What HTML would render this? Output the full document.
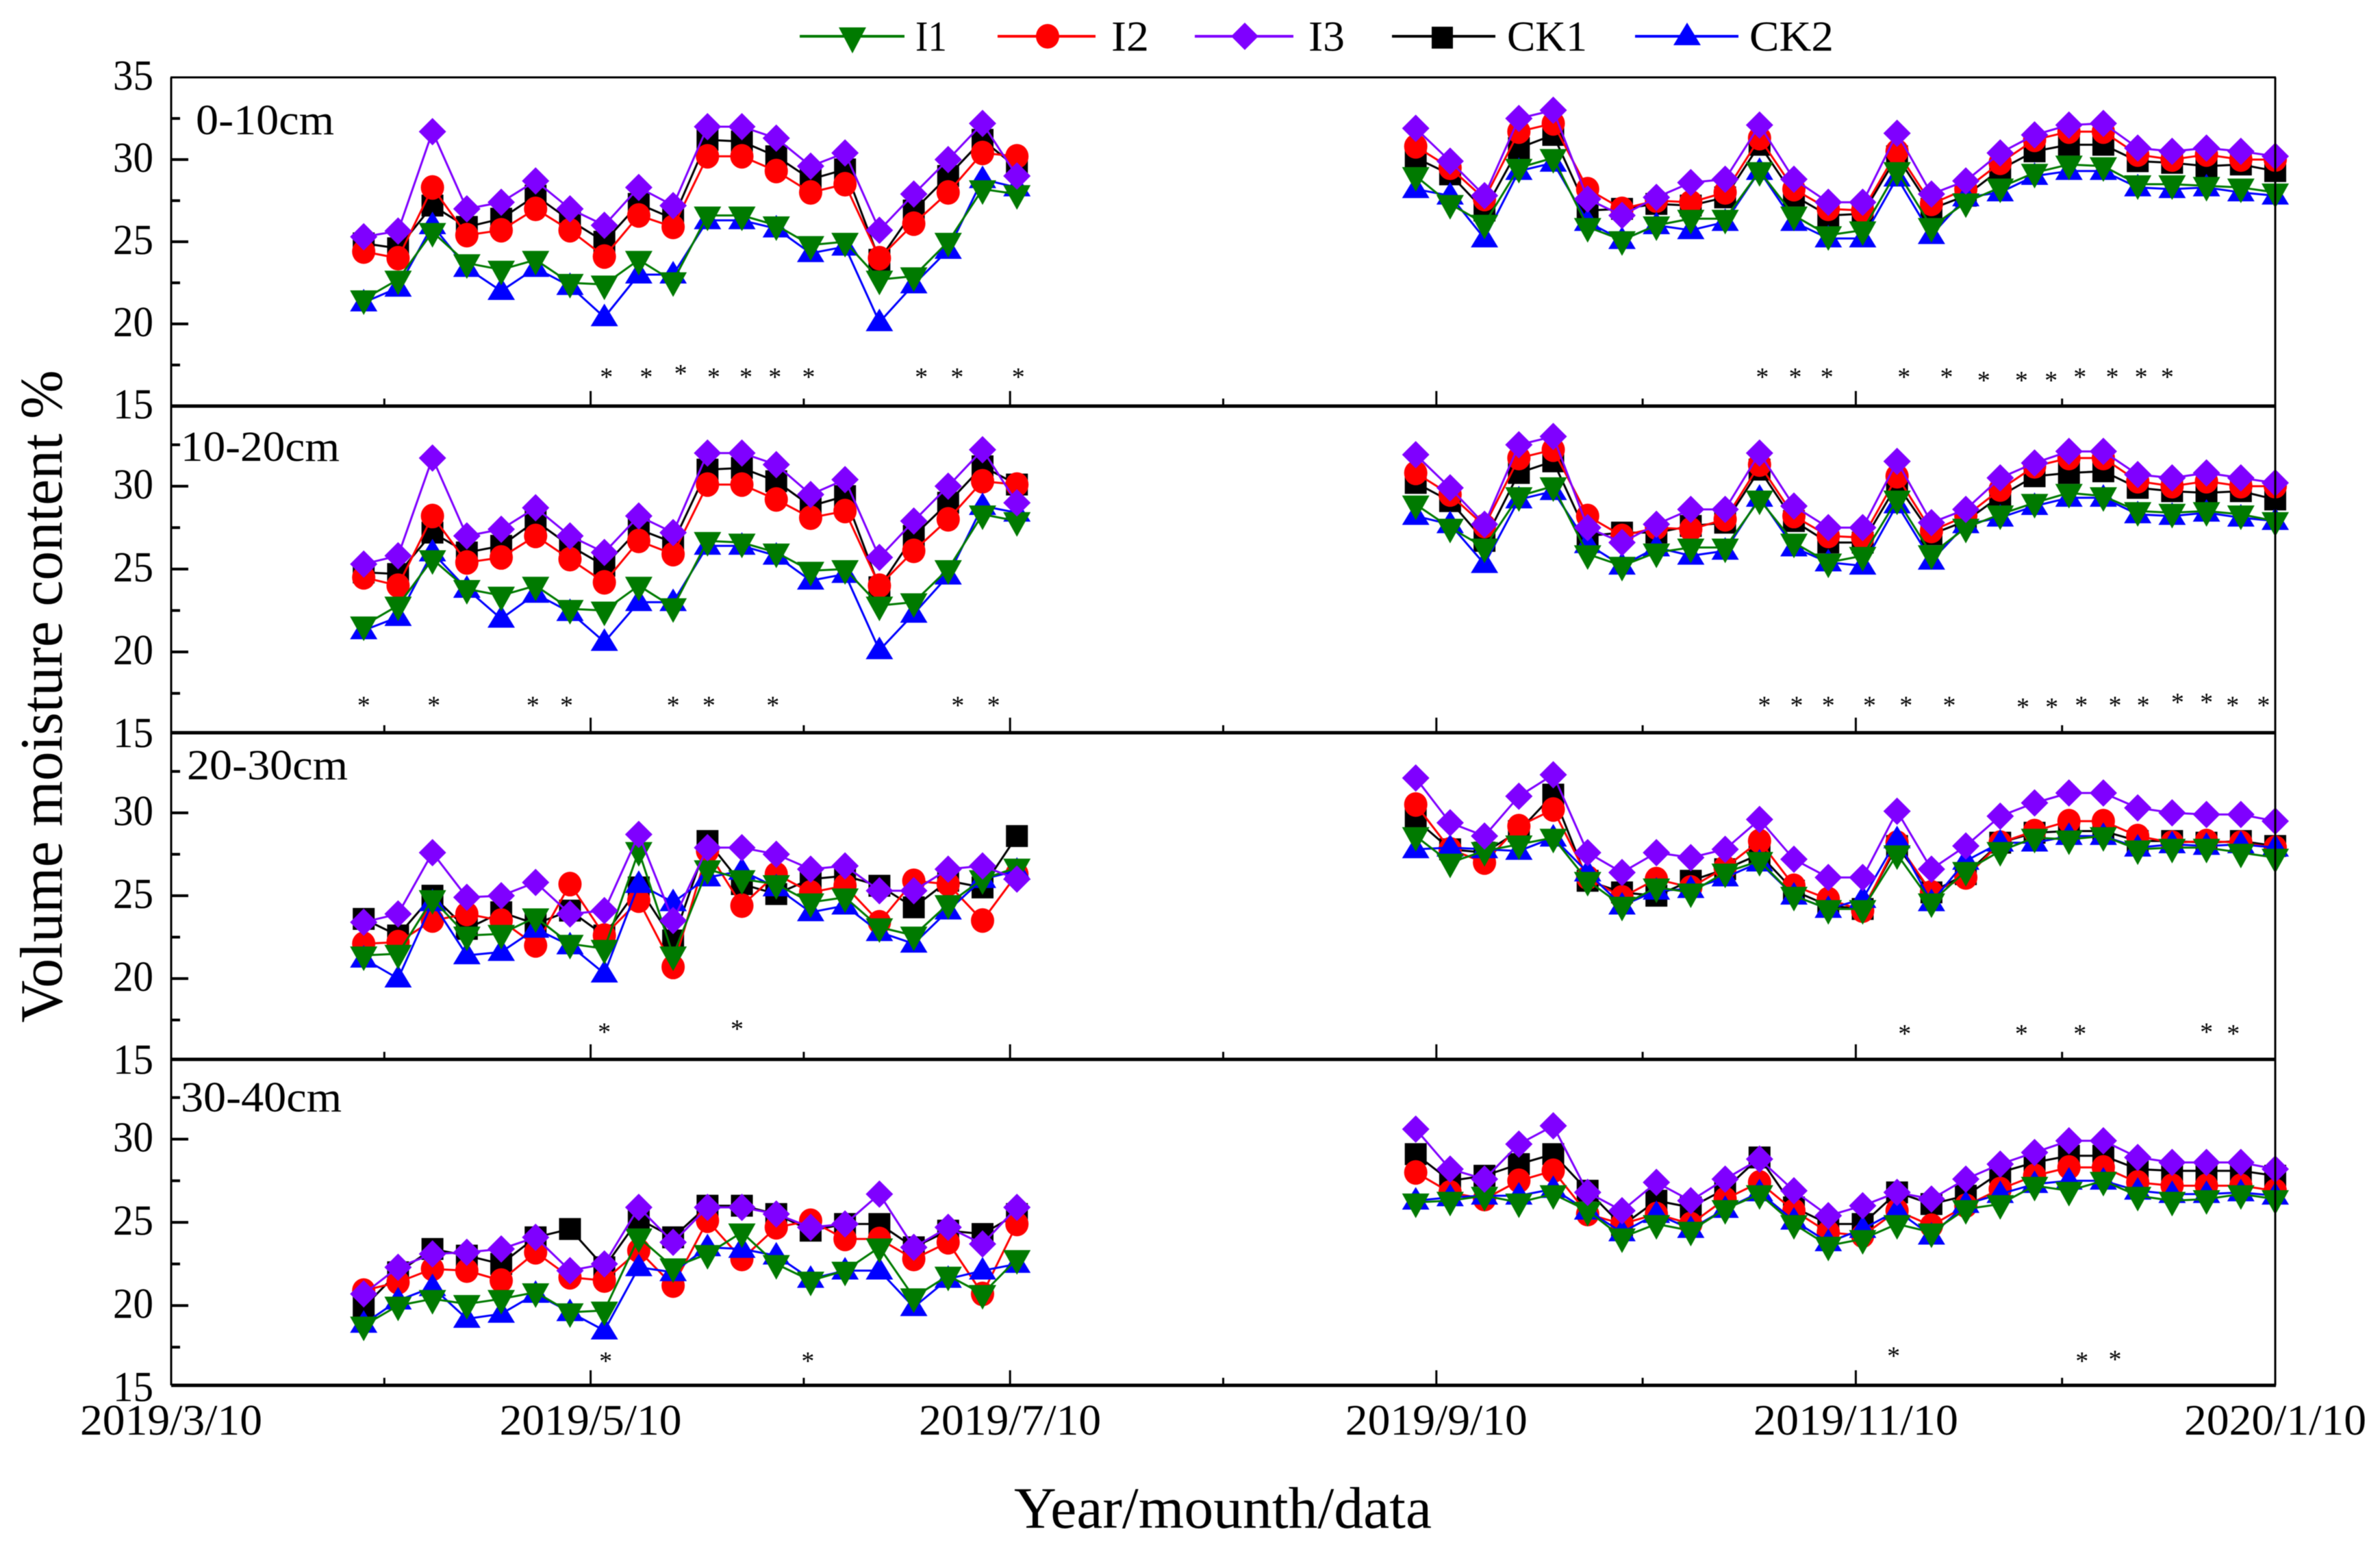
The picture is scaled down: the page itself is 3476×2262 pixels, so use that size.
<!DOCTYPE html>
<html lang="en">
<head>
<meta charset="utf-8">
<title>Volume moisture content by soil depth</title>
<style>
html,body{margin:0;padding:0;background:#fff;width:3476px;height:2262px;overflow:hidden}
svg{display:block;filter:blur(0.6px)}
text{font-family:"Liberation Serif","Times New Roman",serif;fill:#000}
</style>
</head>
<body>
<svg id="chart" xmlns="http://www.w3.org/2000/svg" width="3476" height="2262" viewBox="0 0 3476 2262">
<rect x="0" y="0" width="3476" height="2262" fill="#fff"/>
<g id="plots"></g>
<g>
  <g>
    <line x1="1168" y1="53" x2="1321" y2="53" stroke="#007a00" stroke-width="4"/>
    <polygon points="1225,40 1265,40 1245,78" fill="#007a00"/>
    <text x="1337" y="74" font-size="62" textLength="46" lengthAdjust="spacingAndGlyphs">I1</text>
  </g>
  <g>
    <line x1="1457" y1="53" x2="1600" y2="53" stroke="#ff0000" stroke-width="4"/>
    <ellipse cx="1530" cy="53" rx="17" ry="18" fill="#ff0000"/>
    <text x="1623" y="74" font-size="62" textLength="55" lengthAdjust="spacingAndGlyphs">I2</text>
  </g>
  <g>
    <line x1="1745" y1="53" x2="1889" y2="53" stroke="#7f00ff" stroke-width="4"/>
    <polygon points="1818,33 1838,53 1818,73 1798,53" fill="#7f00ff"/>
    <text x="1911" y="74" font-size="62" textLength="53" lengthAdjust="spacingAndGlyphs">I3</text>
  </g>
  <g>
    <line x1="2033" y1="53" x2="2184" y2="53" stroke="#000" stroke-width="4"/>
    <rect x="2091" y="39" width="31" height="32" fill="#000"/>
    <text x="2201" y="74" font-size="62" textLength="117" lengthAdjust="spacingAndGlyphs">CK1</text>
  </g>
  <g>
    <line x1="2388" y1="53" x2="2539" y2="53" stroke="#0000ff" stroke-width="4"/>
    <polygon points="2464,33 2484,66 2444,66" fill="#0000ff"/>
    <text x="2555" y="74" font-size="62" textLength="123" lengthAdjust="spacingAndGlyphs">CK2</text>
  </g>
</g>
<text x="286" y="196" font-size="62" textLength="202" lengthAdjust="spacingAndGlyphs">0-10cm</text>
<text x="264" y="673" font-size="62" textLength="232" lengthAdjust="spacingAndGlyphs">10-20cm</text>
<text x="273" y="1138" font-size="62" textLength="235" lengthAdjust="spacingAndGlyphs">20-30cm</text>
<text x="264" y="1623" font-size="62" textLength="235" lengthAdjust="spacingAndGlyphs">30-40cm</text>
<text transform="translate(90,1017) rotate(-90)" text-anchor="middle" font-size="88" textLength="953" lengthAdjust="spacingAndGlyphs">Volume moisture content %</text>
<text x="1481" y="2231" font-size="86" textLength="610" lengthAdjust="spacingAndGlyphs">Year/mounth/data</text>
</svg>
<script>
// Sampling dates, as days since 2019/3/10
const sampleDays = [28,33,38,43,48,53,58,63,68,73,78,83,88,93,98,103,108,113,118,123,
  181,186,191,196,201,206,211,216,221,226,231,236,241,246,251,256,261,266,271,276,281,286,291,296,301,306];

// Axis tick labels
const xTickLabels = ['2019/3/10','2019/5/10','2019/7/10','2019/9/10','2019/11/10','2020/1/10'];
const xMinorDates = ['2019/4/10','2019/6/10','2019/8/10','2019/10/10','2019/12/10'];
const yLabelsTop = [35,30,25,20,15];
const yLabelsOther = [30,25,20,15];
const yMinorValues = [32.5,27.5,22.5,17.5];

// 0-10 cm
const p1I1 = [21.5,22.7,25.6,23.7,23.3,23.9,22.5,22.4,23.9,22.6,26.6,26.6,26,24.8,25,22.7,22.9,25,28.2,27.9,
  29,27.3,26.1,29.5,30.1,25.9,25.1,26,26.4,26.4,29.3,26.6,25.4,25.7,29.3,25.9,27.4,28.3,29.2,29.7,29.6,28.5,28.5,28.4,28.3,28];
const p1I2 = [24.4,24,28.3,25.4,25.7,27,25.7,24.1,26.6,25.9,30.2,30.2,29.3,28,28.5,24,26.1,28,30.4,30.2,
  30.8,29.5,27.6,31.7,32.2,28.2,27,27.5,27.4,28,31.3,28.2,27,26.9,30.5,27.3,28.2,29.8,31.2,31.7,31.7,30.3,30,30.3,30,30];
const p1I3 = [25.3,25.65,31.7,27,27.4,28.7,27,26,28.3,27.2,32,32,31.3,29.6,30.4,25.7,27.9,30,32.2,29,
  31.9,29.9,27.8,32.5,33,27.6,26.6,27.7,28.6,28.8,32.1,28.8,27.4,27.4,31.6,27.9,28.7,30.4,31.5,32.1,32.2,30.7,30.5,30.7,30.5,30.2];
const p1CK1 = [24.9,24.6,27.2,25.9,26.4,27.8,26.3,25,27.3,26.4,31.2,31.1,30.2,28.8,29.4,23.9,26.9,29,31.2,29.5,
  30.1,29.1,26.9,30.7,31.5,26.9,27,27.3,27.2,27.7,30.9,27.8,26.6,26.7,30.2,27,27.8,29.4,30.5,30.9,30.9,29.9,29.8,29.6,29.7,29.3];
const p1CK2 = [21.3,22.2,26,23.4,22,23.4,22.3,20.4,23,23,26.3,26.3,25.8,24.3,24.7,20.1,22.4,24.5,28.8,28.3,
  28.2,27.8,25.2,29.3,29.8,26.2,25.1,26,25.7,26.2,29.3,26.2,25.2,25.2,28.9,25.4,27.7,28,29,29.3,29.3,28.3,28.2,28.3,28,27.8];

// 10-20 cm
const p2I1 = [21.6,22.8,25.6,23.8,23.4,24,22.6,22.5,24,22.7,26.7,26.6,26,24.9,25,22.8,23,25,28.3,27.9,
  28.9,27.5,26.3,29.4,30,25.9,25.2,26,26.3,26.3,29.2,26.6,25.4,25.8,29.2,25.9,27.5,28.3,29,29.6,29.4,28.5,28.4,28.5,28.3,27.9];
const p2I2 = [24.5,24,28.2,25.4,25.7,27,25.6,24.2,26.7,25.9,30.1,30.1,29.2,28.1,28.5,24,26.1,28,30.3,30.1,
  30.8,29.5,27.6,31.7,32.2,28.2,27,27.5,27.4,28,31.3,28.2,27,26.9,30.6,27.3,28.2,29.8,31.2,31.7,31.7,30.3,30,30.3,30,30];
const p2I3 = [25.3,25.8,31.7,27,27.4,28.7,27,26,28.2,27.2,32,32,31.3,29.5,30.4,25.7,27.9,30,32.2,29,
  31.9,29.9,27.7,32.5,33,27.5,26.6,27.7,28.6,28.6,32,28.8,27.5,27.5,31.5,27.8,28.6,30.5,31.4,32.1,32.1,30.7,30.5,30.8,30.5,30.2];
const p2CK1 = [24.8,24.7,27.2,26,26.4,27.9,26.4,25.2,27.4,26.6,31,31.1,30.3,28.8,29.4,23.9,27,29,31.2,30.1,
  30.2,29.1,26.7,30.8,31.5,27,27.2,27.2,27.6,27.8,31,27.9,26.6,26.6,30.1,27.1,27.9,29.4,30.6,30.8,30.9,29.9,29.7,29.6,29.7,29.2];
const p2CK2 = [21.3,22.1,26,23.8,22,23.5,22.4,20.6,23,23,26.4,26.4,25.8,24.3,24.7,20.1,22.3,24.6,28.8,28.4,
  28.2,27.7,25.3,29.2,29.7,26.5,25.2,26.3,25.8,26.1,29.3,26.3,25.4,25.2,28.9,25.5,27.7,28.1,28.8,29.3,29.3,28.3,28.2,28.4,28.1,27.9];

// 20-30 cm
const p3I1 = [21.4,21.5,24.8,22.6,22.7,23.7,22.1,21.8,27.7,21.4,26.6,26,25.7,24.6,24.9,23.1,22.6,24.5,26,26.7,
  28.6,27,27.7,28.1,28.5,25.9,24.4,25.5,25.2,26.4,27.1,25,24.2,24.2,27.5,24.6,26.5,27.7,28.5,28.4,28.6,27.8,27.9,27.9,27.6,27.3];
const p3I2 = [22.1,22.2,23.5,23.9,23.5,22,25.7,22.6,24.7,20.7,27.7,24.4,26.3,25.2,25.6,23.4,25.9,25.7,23.5,26.3,
  30.5,27.8,27,29.2,30.2,26.1,24.9,26,25.5,26.7,28.3,25.6,24.8,24.1,28.2,25.2,26.1,28.2,28.9,29.5,29.5,28.6,28.2,28.3,28.2,27.9];
const p3I3 = [23.4,23.9,27.6,24.9,25,25.8,23.9,24.1,28.7,23.5,27.9,27.9,27.5,26.6,26.8,25.3,25.3,26.6,26.8,26,
  32.1,29.4,28.6,31,32.3,27.6,26.4,27.6,27.3,27.8,29.6,27.2,26.1,26.1,30.1,26.6,28,29.8,30.6,31.2,31.2,30.3,30,29.9,29.9,29.5];
const p3CK1 = [23.6,22.6,25,23,24,23.3,24.1,22.6,25.5,22.3,28.3,25.7,25.1,26,26.2,25.6,24.3,25.9,25.5,28.6,
  29.6,27.8,27.6,28.9,31.1,25.9,25.2,25,25.9,26.6,27.5,25.3,24.4,24.2,28,25.2,26.3,28.2,28.8,28.9,28.9,28.3,28.3,28.2,28.3,28];
const p3CK2 = [21.2,20,24.6,21.4,21.6,23,22,20.3,25.7,24.6,26.1,26.5,25.5,24,24.4,22.8,22.1,24.1,26,26.5,
  27.8,27.9,27.8,27.7,28.5,26.4,24.4,25.3,25.4,26.1,27,25,24.2,24.8,28.4,24.6,27.1,28.2,28.2,28.6,28.6,27.9,28.1,28,28.1,27.9];

// 30-40 cm
const p4I1 = [18.8,20,20.4,20.1,20.4,20.8,19.6,19.7,24.1,22.3,23.1,24.4,22.5,21.5,22.1,23.5,20.5,21.8,20.7,22.8,
  26.2,26.3,26.6,26.2,26.7,25.7,24.1,24.9,24.5,25.8,26.7,24.9,23.6,24,24.9,24.4,25.8,26.1,27.2,26.9,27.5,26.6,26.3,26.4,26.7,26.4];
const p4I2 = [20.9,21.4,22.2,22.1,21.5,23.2,21.7,21.5,23.3,21.2,25.1,22.8,24.7,25.1,24,24,22.8,23.8,20.7,24.9,
  28,26.8,26.4,27.5,28.1,25.5,24.9,25.5,24.9,26.4,27.4,25.7,24.4,24.2,25.7,24.8,26,27,27.8,28.3,28.3,27.4,27.2,27.2,27.2,26.9];
const p4I3 = [20.7,22.3,23.1,23.2,23.4,24.1,22.1,22.5,25.9,23.8,25.9,25.9,25.5,24.7,24.9,26.7,23.5,24.7,23.7,25.9,
  30.6,28.2,27.6,29.7,30.8,26.8,25.7,27.4,26.3,27.6,28.8,26.9,25.4,26,26.8,26.4,27.6,28.5,29.2,29.9,29.9,28.9,28.6,28.6,28.6,28.2];
const p4CK1 = [19.9,22,23.4,23,22.5,24.1,24.6,22.3,25.2,24.1,26,26,25.5,24.5,24.9,24.9,23.5,24.5,24.3,25.5,
  29.1,27.5,27.8,28.5,29.1,26.9,24.8,26.3,25.9,27,28.9,25.9,24.9,24.9,26.8,26.1,26.6,28,28.6,29,29,28.2,28.1,28.1,28.1,27.8];
const p4CK2 = [18.9,20.3,21.1,19.2,19.5,20.7,19.6,18.5,22.3,22,23.5,23.4,23,21.6,22.1,22.1,19.9,21.6,22.1,22.5,
  26.3,26.5,26.6,26.6,27,25.7,24.4,25.5,24.6,25.8,26.8,25.1,23.8,24.6,25.7,24.2,26.1,26.7,27.3,27.5,27.5,26.9,26.7,26.7,26.8,26.6];

// Significance marks: day and height on the value axis
const p1StarDays = [63.3,69.1,74.1,78.9,83.6,87.8,92.7,109.1,114.3,123.2,231.4,236.2,240.8,252,258.2,263.6,269.1,273.4,277.6,282.3,286.5,290.3];
const p1StarValues = [17,17,17.2,17,17,17,17,17,17,17,17,17,17,17,17,16.8,16.8,16.8,17,17,17,17];
const p2StarDays = [28,38.2,52.6,57.5,73,78.2,87.5,114.4,119.6,231.7,236.4,241,247,252.3,258.6,269.3,273.5,277.8,282.7,286.8,291.8,296,299.8,304.3];
const p2StarValues = [17,17,17,17,17,17,17,17,17,17,17,17,17,17,17,16.9,16.9,17,17,17,17.2,17.2,17,17];
const p3StarDays = [63,82.3,252.1,269.1,277.6,296,299.9];
const p3StarValues = [17,17.2,16.9,16.9,16.9,17,16.9];
const p4StarDays = [63.2,92.6,250.5,277.9,282.7];
const p4StarValues = [16.9,16.9,17.2,16.9,17];

const NS = 'http://www.w3.org/2000/svg';
const plots = document.getElementById('plots');
const xLeft = 250, xRight = 3323;
const dayZero = Date.UTC(2019, 2, 10);
const pxPerDay = (xRight - xLeft) / 306;
function dateToDay(s) {
  const p = s.split('/');
  return Math.round((Date.UTC(+p[0], +p[1] - 1, +p[2]) - dayZero) / 86400000);
}
function xScale(day) { return xLeft + day * pxPerDay; }

const panels = [
  {key:'0-10cm', top:113, bottom:593, y30:233, unit:24, labels:yLabelsTop, series:{I1:p1I1,I2:p1I2,I3:p1I3,CK1:p1CK1,CK2:p1CK2}, starDays:p1StarDays, starValues:p1StarValues},
  {key:'10-20cm', top:593, bottom:1070, y30:710, unit:24.2, labels:yLabelsOther, series:{I1:p2I1,I2:p2I2,I3:p2I3,CK1:p2CK1,CK2:p2CK2}, starDays:p2StarDays, starValues:p2StarValues},
  {key:'20-30cm', top:1070, bottom:1547, y30:1187, unit:24.2, labels:yLabelsOther, series:{I1:p3I1,I2:p3I2,I3:p3I3,CK1:p3CK1,CK2:p3CK2}, starDays:p3StarDays, starValues:p3StarValues},
  {key:'30-40cm', top:1547, bottom:2023, y30:1663.5, unit:24.3, labels:yLabelsOther, series:{I1:p4I1,I2:p4I2,I3:p4I3,CK1:p4CK1,CK2:p4CK2}, starDays:p4StarDays, starValues:p4StarValues}
];

const drawOrder = ['CK1','I2','CK2','I1','I3'];
const colors = {I1:'#007a00', I2:'#ff0000', I3:'#7f00ff', CK1:'#000000', CK2:'#0000ff'};

function svgEl(tag, attrs, parent) {
  const el = document.createElementNS(NS, tag);
  for (const k in attrs) el.setAttribute(k, attrs[k]);
  parent.appendChild(el);
  return el;
}

function drawMarker(series, cx, cy, parent) {
  let el;
  if (series === 'I1') {
    el = svgEl('polygon', {points:`${cx-20},${cy-13} ${cx+20},${cy-13} ${cx},${cy+23}`, fill:colors[series]}, parent);
  } else if (series === 'CK2') {
    el = svgEl('polygon', {points:`${cx},${cy-20} ${cx+20},${cy+13} ${cx-20},${cy+13}`, fill:colors[series]}, parent);
  } else if (series === 'I3') {
    el = svgEl('polygon', {points:`${cx},${cy-20} ${cx+20},${cy} ${cx},${cy+20} ${cx-20},${cy}`, fill:colors[series]}, parent);
  } else if (series === 'I2') {
    el = svgEl('ellipse', {cx:cx, cy:cy, rx:17, ry:18, fill:colors[series]}, parent);
  } else {
    el = svgEl('rect', {x:cx-16, y:cy-16, width:32, height:32, fill:colors[series]}, parent);
  }
  
  
}

panels.forEach(function (panel) {
  const yScale = function (v) { return panel.y30 + (30 - v) * panel.unit; };
  const group = svgEl('g', {}, plots);
  
  

  // series
  drawOrder.forEach(function (name) {
    const values = panel.series[name];
    const seriesGroup = svgEl('g', {}, group);
    
    
    let d = '';
    values.forEach(function (v, i) {
      const gap = i === 0 || sampleDays[i] - sampleDays[i - 1] > 10;
      d += (gap ? 'M' : 'L') + xScale(sampleDays[i]).toFixed(1) + ' ' + yScale(v).toFixed(1);
    });
    const line = svgEl('path', {d:d, fill:'none', stroke:colors[name], 'stroke-width':3, 'stroke-linejoin':'round'}, seriesGroup);
    
    
    values.forEach(function (v, i) {
      drawMarker(name, xScale(sampleDays[i]), yScale(v), seriesGroup);
    });
  });

  // significance stars
  panel.starDays.forEach(function (day, i) {
    const star = svgEl('text', {x:xScale(day), y:yScale(panel.starValues[i]) + 18, 'font-size':38, 'text-anchor':'middle'}, group);
    star.textContent = '*';
    
    
  });

  // frame
  const left = svgEl('line', {x1:xLeft, x2:xLeft, y1:panel.top, y2:panel.bottom, stroke:'#000', 'stroke-width':3}, group);
  
  
  const right = svgEl('line', {x1:xRight, x2:xRight, y1:panel.top, y2:panel.bottom, stroke:'#000', 'stroke-width':3}, group);
  
  
  const bottom = svgEl('line', {x1:xLeft, x2:xRight + 1, y1:panel.bottom, y2:panel.bottom, stroke:'#000', 'stroke-width':5}, group);
  
  

  // y ticks and labels
  panel.labels.forEach(function (v) {
    const y = yScale(v);
    if (v < 35 && v > 15) {
      const tick = svgEl('line', {x1:xLeft, x2:xLeft + 25, y1:y, y2:y, stroke:'#000', 'stroke-width':4}, group);
      
      
    }
    const label = svgEl('text', {x:224, y:y + 18, 'font-size':62, 'text-anchor':'end', textLength:59, lengthAdjust:'spacingAndGlyphs'}, group);
    label.textContent = String(v);
    
    
  });
  yMinorValues.forEach(function (v) {
    const y = yScale(v);
    const tick = svgEl('line', {x1:xLeft, x2:xLeft + 13, y1:y, y2:y, stroke:'#000', 'stroke-width':4}, group);
    
    
  });

  // x ticks
  xTickLabels.forEach(function (s) {
    const x = xScale(dateToDay(s));
    const tick = svgEl('line', {x1:x, x2:x, y1:panel.bottom - 22, y2:panel.bottom, stroke:'#000', 'stroke-width':3}, group);
    
    
  });
  xMinorDates.forEach(function (s) {
    const x = xScale(dateToDay(s));
    const tick = svgEl('line', {x1:x, x2:x, y1:panel.bottom - 11, y2:panel.bottom, stroke:'#000', 'stroke-width':3}, group);
    
    
  });
});

// top border
const topBorder = svgEl('line', {x1:xLeft - 1, x2:xRight + 1, y1:113, y2:113, stroke:'#000', 'stroke-width':3}, plots);



// x tick labels
xTickLabels.forEach(function (s) {
  const label = svgEl('text', {x:xScale(dateToDay(s)), y:2095, 'font-size':63, 'text-anchor':'middle', textLength:s.length === 10 ? 299 : 266, lengthAdjust:'spacingAndGlyphs'}, plots);
  label.textContent = s;
  
  
});
</script>
</body>
</html>
